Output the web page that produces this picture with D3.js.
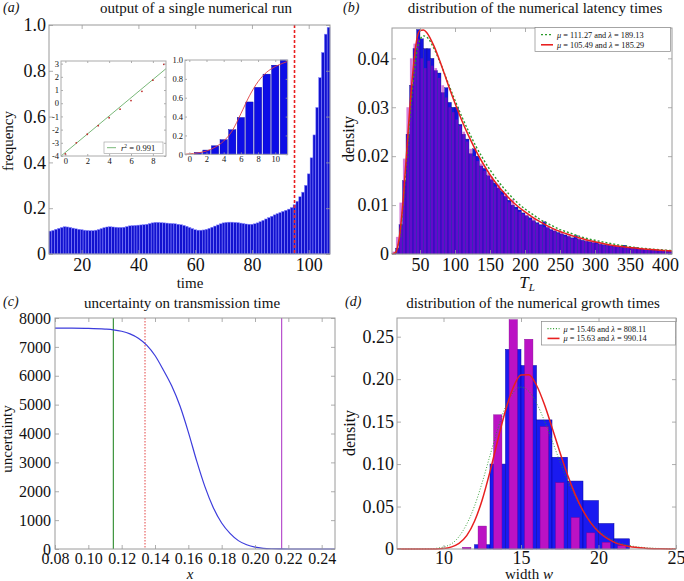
<!DOCTYPE html>
<html><head><meta charset="utf-8">
<script src="https://cdn.jsdelivr.net/npm/d3@7"></script>
<style>body{margin:0;background:#fff}svg{display:block}text{font-family:'Liberation Serif','Times New Roman',serif}</style>
</head><body><svg id="c" width="684" height="581" font-family="Liberation Serif, serif"></svg>
<script>
// ---------- Panel (a): single numerical run ----------
const runTimes = d3.range(9, 108);
const runFreq = [0.100,0.103,0.108,0.112,0.116,0.119,0.118,0.116,0.113,0.110,0.108,0.106,0.104,0.103,0.102,0.102,0.104,0.107,0.111,0.115,0.118,0.119,0.118,0.117,0.116,0.116,0.117,0.120,0.123,0.124,0.125,0.126,0.127,0.128,0.130,0.133,0.136,0.138,0.138,0.137,0.136,0.135,0.134,0.133,0.132,0.130,0.128,0.125,0.121,0.116,0.111,0.106,0.104,0.104,0.105,0.108,0.112,0.117,0.122,0.127,0.132,0.136,0.138,0.139,0.139,0.138,0.137,0.135,0.133,0.131,0.130,0.130,0.132,0.136,0.141,0.147,0.153,0.159,0.165,0.171,0.176,0.181,0.186,0.191,0.196,0.203,
0.215,0.230,0.250,0.270,0.300,0.350,0.420,0.520,0.640,0.770,0.880,0.960,0.990];
const runCutoff = 95;
const runXTicks = [20,40,60,80,100];
const runYTicks = [0,0.2,0.4,0.6,0.8,1.0];
// inset 1 (log-linear fit)
const fitX = [0,1,2,3,4,5,6,7,8,9];
const fitY = [-3.85,-3.0,-2.35,-1.7,-1.1,-0.45,0.2,0.9,1.75,2.95];
const fitLineX = [-0.4, 9.2];
const fitLineY = [-4.0, 2.62];
const fitLabel = "0.991";
// inset 2 (cumulative)
const cumX = [1,2,3,4,5,6,7,8,9,10,11];
const cumY = [0.02,0.045,0.09,0.155,0.26,0.39,0.555,0.71,0.85,0.945,1.0];
const cumFitX = [-0.5,0,1,2,3,4,5,6,7,8,9,10,11,11.45];
const cumFitY = [0,0.005,0.015,0.035,0.075,0.14,0.25,0.43,0.62,0.77,0.87,0.93,0.97,0.985];

// ---------- Panel (b): latency times ----------
const latBinStart = d3.range(10, 410, 5);
const latBlue = [0.0002,0.0012,0.0060,0.0150,0.0245,0.0345,0.0420,0.0459,0.0440,0.0420,0.0420,0.0400,0.0375,0.0370,0.0330,0.0340,0.0310,0.0300,0.0300,0.0265,0.0245,0.0235,0.0205,0.0215,0.0200,0.0180,0.0175,0.0160,
0.0152,0.0145,0.0135,0.0128,0.0118,0.0110,0.0100,0.0096,0.0090,0.0084,0.0078,0.0074,0.0068,0.0064,0.0060,0.0066,0.0054,0.0050,0.0047,0.0044,0.0041,0.0039,0.0036,0.0033,0.0038,0.0030,0.0028,0.0026,0.0025,0.0023,0.0024,0.0020,0.0019,0.0018,0.0017,0.0016,0.0015,0.0014,0.0018,0.0013,0.0012,0.0013,0.0011,0.0010,0.0009,0.0009,0.0008,0.0008,0.0007,0.0007,0.0006,0.0006];
const latMagenta = [0.0005,0.0035,0.0105,0.0195,0.0300,0.0400,0.0430,0.0440,0.0400,0.0380,0.0395,0.0385,0.0380,0.0360,0.0345,0.0320,0.0300,0.0290,0.0275,0.0262,0.0250,0.0230,0.0215,0.0200,0.0190,0.0185,0.0170,0.0165,
0.0158,0.0138,0.0142,0.0122,0.0124,0.0106,0.0112,0.0092,0.0086,0.0082,0.0080,0.0070,0.0072,0.0062,0.0058,0.0055,0.0056,0.0048,0.0050,0.0042,0.0044,0.0036,0.0038,0.0032,0.0031,0.0032,0.0027,0.0029,0.0024,0.0025,0.0021,0.0022,0.0018,0.0020,0.0016,0.0017,0.0018,0.0013,0.0014,0.0014,0.0013,0.0011,0.0012,0.0010,0.0010,0.0009,0.0008,0.0009,0.0007,0.0006,0.0007,0.0005];
const latRedX = [10,15,20,25,30,35,40,45,50,55,60,70,80,90,100,110,120,130,140,150,160,170,180,190,200,210,220,230,240,250,260,270,280,290,300,320,340,360,380,400,410];
const latRedY = [0,0.0003,0.003,0.0095,0.019,0.029,0.0375,0.0435,0.0457,0.0458,0.0452,0.0425,0.0388,0.0347,0.0308,0.0272,0.024,0.0211,0.0185,0.0162,0.0142,0.0125,0.011,0.0097,0.0086,0.0076,0.0067,0.0059,0.0052,0.0046,0.0041,0.0036,0.0032,0.0028,0.0025,0.0019,0.0015,0.0012,0.0009,0.0007,0.0006];
const latGreenX = [10,15,20,25,30,35,40,45,50,55,60,70,80,90,100,110,120,130,140,150,160,170,180,190,200,210,220,230,240,250,260,270,280,290,300,320,340,360,380,400,410];
const latGreenY = [0,0.0002,0.0025,0.0085,0.0175,0.027,0.035,0.041,0.0438,0.0446,0.0443,0.042,0.0387,0.035,0.0314,0.028,0.0249,0.022,0.0195,0.0172,0.0152,0.0134,0.0118,0.0104,0.0092,0.0082,0.0072,0.0064,0.0057,0.005,0.0045,0.004,0.0035,0.0031,0.0028,0.0022,0.0017,0.0013,0.001,0.0008,0.0007];
const latXTicks = [50,100,150,200,250,300,350,400];
const latYTicks = [0,0.01,0.02,0.03,0.04];
const latLegend = [["111.27","189.13"],["105.49","185.29"]];

// ---------- Panel (c): uncertainty ----------
const uncX = [0.08,0.09,0.10,0.11,0.115,0.12,0.125,0.13,0.135,0.14,0.145,0.15,0.155,0.16,0.165,0.17,0.175,0.18,0.185,0.19,0.195,0.20,0.205,0.21,0.215,0.22,0.248];
const uncY = [7650,7648,7640,7615,7590,7540,7450,7300,7060,6700,6200,5650,4950,4050,3050,2150,1430,900,540,290,145,62,24,8,2,0,0];
const uncLines = [0.115, 0.134, 0.216];
const uncXTicks = [0.08,0.10,0.12,0.14,0.16,0.18,0.20,0.22,0.24];
const uncYTicks = [0,1000,2000,3000,4000,5000,6000,7000,8000];

// ---------- Panel (d): growth times ----------
const grBlueStart = [12,13,14,15,16,17,18,19,20,21];
const grBlue = [0.005,0.10,0.235,0.216,0.152,0.108,0.080,0.057,0.030,0.012];
const grMagCenter = [11.5,12.5,13.5,14.5,15.5,16.5,17.5,18.5,19.5,20.5,21.5];
const grMag = [0.002,0.027,0.158,0.27,0.247,0.144,0.078,0.037,0.019,0.008,0.004];
const grCurveX = [7,8,9,10,11,12,12.5,13,13.5,14,14.5,15,15.5,16,16.5,17,17.5,18,18.5,19,19.5,20,21,22,23,24,25];
const grRed = [0,0,0.00002,0.00064,0.0066,0.0326,0.058,0.0911,0.1281,0.1631,0.1902,0.2048,0.2053,0.1928,0.1707,0.1432,0.1144,0.0873,0.064,0.0451,0.0307,0.0203,0.0081,0.0029,0.00095,0.0003,0.0001];
const grGreen = [0,0.000005,0.00017,0.00232,0.0146,0.0505,0.0785,0.1101,0.1413,0.1674,0.1845,0.1906,0.1859,0.1718,0.1515,0.1278,0.1036,0.081,0.0613,0.0449,0.032,0.0222,0.00997,0.0041,0.00157,0.00057,0.00019];
const grXTicks = [10,15,20,25];
const grYTicks = [0,0.05,0.10,0.15,0.20,0.25];
const grLegend = [["15.46","808.11"],["15.63","990.14"]];

// ================= drawing =================
const FONT = "Liberation Serif, serif";
const svg = d3.select("#c");

function axes(g, x, y, o) {
  const [x0,x1] = x.range(), [yb,yt] = y.range();
  const st = sel => {
    sel.attr("font-family", FONT).attr("font-size", o.fs);
    sel.select(".domain").remove();
    sel.selectAll(".tick line").attr("stroke", "#999").attr("stroke-width", 0.8);
    sel.selectAll("text").attr("font-size", o.fs).attr("fill", "#111").attr("font-family", FONT).style("font-family", FONT);
  };
  g.append("g").attr("transform", `translate(0,${yb})`)
    .call(d3.axisBottom(x).tickValues(o.xt).tickFormat(o.xf).tickSizeInner(-o.tl).tickSizeOuter(0).tickPadding(o.xpad)).call(st);
  g.append("g").attr("transform", `translate(0,${yt})`)
    .call(d3.axisTop(x).tickValues(o.xt).tickFormat("").tickSizeInner(-o.tl).tickSizeOuter(0)).call(st);
  g.append("g").attr("transform", `translate(${x0},0)`)
    .call(d3.axisLeft(y).tickValues(o.yt).tickFormat(o.yf).tickSizeInner(-o.tl).tickSizeOuter(0).tickPadding(o.ypad)).call(st);
  g.append("g").attr("transform", `translate(${x1},0)`)
    .call(d3.axisRight(y).tickValues(o.yt).tickFormat("").tickSizeInner(-o.tl).tickSizeOuter(0)).call(st);
  g.append("rect").attr("x", x0).attr("y", yt).attr("width", x1-x0).attr("height", yb-yt)
    .attr("fill", "none").attr("stroke", o.frame || "#9a9a9a").attr("stroke-width", 1);
}
function label(txt, x, y, size, opt={}) {
  const t = svg.append("text").attr("x", x).attr("y", y).attr("font-size", size)
    .attr("text-anchor", opt.anchor || "middle").attr("fill", "#111").text(txt);
  if (opt.italic) t.attr("font-style", "italic");
  if (opt.rotate) t.attr("transform", `rotate(-90,${x},${y})`);
  return t;
}
const zeroFmt = f => d => d === 0 ? "0" : d3.format(f)(d);

// ---- (a) ----
{
  const g = svg.append("g");
  const x = d3.scaleLinear().domain([8.5, 107.5]).range([49, 330]);
  const y = d3.scaleLinear().domain([0, 1]).range([254, 25]);
  g.selectAll("rect.b").data(runFreq).join("rect")
    .attr("x", (d,i) => x(runTimes[i]-0.5)).attr("width", (d,i) => x(runTimes[i]+0.5)-x(runTimes[i]-0.5))
    .attr("y", d => y(d)).attr("height", d => y(0)-y(d))
    .attr("fill", "#1212d0").attr("stroke", "#8a8aff").attr("stroke-width", 0.5);
  g.append("line").attr("x1", x(runCutoff)).attr("x2", x(runCutoff)).attr("y1", y(1)).attr("y2", y(0))
    .attr("stroke", "#e82020").attr("stroke-width", 1.6).attr("stroke-dasharray", "3,2");
  axes(g, x, y, {xt: runXTicks, xf: d3.format("d"), yt: runYTicks, yf: zeroFmt(".1f"), fs: 18, tl: 4, xpad: 4, ypad: 3});

  // inset 1
  const gi = svg.append("g");
  const xi = d3.scaleLinear().domain([-0.4, 9.2]).range([61, 166]);
  const yi = d3.scaleLinear().domain([-4, 3.2]).range([156, 61]);
  gi.append("rect").attr("x", 61).attr("y", 61).attr("width", 105).attr("height", 95).attr("fill", "#fff");
  gi.append("line").attr("x1", xi(fitLineX[0])).attr("y1", yi(fitLineY[0])).attr("x2", xi(fitLineX[1])).attr("y2", yi(fitLineY[1]))
    .attr("stroke", "#6ab06a").attr("stroke-width", 0.9);
  gi.selectAll("circle").data(fitY).join("circle").attr("cx", (d,i) => xi(fitX[i])).attr("cy", d => yi(d)).attr("r", 0.9).attr("fill", "#c03030");
  axes(gi, xi, yi, {xt: [0,2,4,6,8], xf: d3.format("d"), yt: [-4,-3,-2,-1,0,1,2,3], yf: d => d3.format("d")(d).replace("−","-"), fs: 8.5, tl: 2, xpad: 2, ypad: 2, frame: "#aaa"});
  gi.append("rect").attr("x", 104).attr("y", 142).attr("width", 59).attr("height", 11.5).attr("fill", "#fff").attr("stroke", "#999").attr("stroke-width", 0.6);
  gi.append("line").attr("x1", 107).attr("x2", 116).attr("y1", 147.7).attr("y2", 147.7).attr("stroke", "#6ab06a").attr("stroke-width", 0.9);
  const lt = gi.append("text").attr("x", 121).attr("y", 150.7).attr("font-size", 8.5).attr("fill", "#111");
  lt.append("tspan").attr("font-style", "italic").text("r");
  lt.append("tspan").attr("font-size", 5.5).attr("dy", -3).text("2");
  lt.append("tspan").attr("dy", 3).text(" = " + fitLabel);

  // inset 2
  const g2 = svg.append("g");
  const x2 = d3.scaleLinear().domain([-0.5, 11.45]).range([185, 287.7]);
  const y2 = d3.scaleLinear().domain([0, 1]).range([154.3, 60]);
  g2.append("rect").attr("x", 185).attr("y", 60).attr("width", 102.7).attr("height", 94.3).attr("fill", "#fff");
  g2.selectAll("rect.c").data(cumY).join("rect")
    .attr("x", (d,i) => x2(cumX[i]-0.425)).attr("width", (d,i) => x2(cumX[i]+0.425)-x2(cumX[i]-0.425))
    .attr("y", d => y2(d)).attr("height", d => y2(0)-y2(d)).attr("fill", "#0d0de6").attr("stroke", "#0000a0").attr("stroke-width", 0.4);
  g2.append("path").datum(cumFitY).attr("d", d3.line().x((d,i) => x2(cumFitX[i])).y(d => y2(d)).curve(d3.curveMonotoneX))
    .attr("fill", "none").attr("stroke", "#e04040").attr("stroke-width", 0.9);
  axes(g2, x2, y2, {xt: [0,2,4,6,8,10], xf: d3.format("d"), yt: [0,0.2,0.4,0.6,0.8,1.0], yf: zeroFmt(".1f"), fs: 8.5, tl: 2, xpad: 2, ypad: 2, frame: "#aaa"});

  label("output of a single numerical run", 196, 13, 15);
  label("time", 190, 288, 15);
  label("frequency", 13, 141, 15, {rotate: true});
  label("(a)", 3, 12, 14, {anchor: "start", italic: true});
}

// ---- (b) ----
function legend(g, x0, y0, w, h, rows, dashGreen) {
  g.append("rect").attr("x", x0).attr("y", y0).attr("width", w).attr("height", h).attr("fill", "#fff").attr("stroke", "#888").attr("stroke-width", 0.7);
  rows.forEach((r, i) => {
    const yy = y0 + h*(i === 0 ? 0.3 : 0.72);
    g.append("line").attr("x1", x0+6).attr("x2", x0+18).attr("y1", yy).attr("y2", yy)
      .attr("stroke", i === 0 ? "#2a9a2a" : "#e82020").attr("stroke-width", i === 0 ? 1.3 : 1.6)
      .attr("stroke-dasharray", i === 0 ? dashGreen : null);
    const t = g.append("text").attr("x", x0+22).attr("y", yy+3).attr("font-size", 8.3).attr("fill", "#111");
    t.append("tspan").attr("font-style", "italic").text("μ");
    t.append("tspan").text(" = " + r[0] + " and ");
    t.append("tspan").attr("font-style", "italic").text("λ");
    t.append("tspan").text(" = " + r[1]);
  });
}
{
  const g = svg.append("g");
  const x = d3.scaleLinear().domain([10, 410]).range([392, 672]);
  const y = d3.scaleLinear().domain([0, 0.0462]).range([254, 28]);
  g.selectAll("rect.bb").data(latBlue).join("rect")
    .attr("x", (d,i) => x(latBinStart[i])).attr("width", (d,i) => x(latBinStart[i]+5)-x(latBinStart[i]))
    .attr("y", d => y(d)).attr("height", d => y(0)-y(d)).attr("fill", "#1414e0").attr("stroke", "#10106a").attr("stroke-width", 0.3);
  g.selectAll("rect.bm").data(latMagenta).join("rect")
    .attr("x", (d,i) => x(latBinStart[i]+0.6)).attr("width", (d,i) => x(latBinStart[i]+4.4)-x(latBinStart[i]+0.6))
    .attr("y", d => y(d)).attr("height", d => y(0)-y(d)).attr("fill", "#b000b8").attr("fill-opacity", 0.5);
  const line = (xs) => d3.line().x((d,i) => x(xs[i])).y(d => y(d)).curve(d3.curveMonotoneX);
  g.append("path").datum(latGreenY).attr("d", line(latGreenX)).attr("fill", "none").attr("stroke", "#2a9a2a").attr("stroke-width", 1.4).attr("stroke-dasharray", "2,2");
  g.append("path").datum(latRedY).attr("d", line(latRedX)).attr("fill", "none").attr("stroke", "#e82020").attr("stroke-width", 1.5);
  axes(g, x, y, {xt: latXTicks, xf: d3.format("d"), yt: latYTicks, yf: zeroFmt(".2f"), fs: 18, tl: 4, xpad: 4, ypad: 3});
  legend(g, 535, 27.5, 135.5, 24, latLegend, "2,2");
  label("distribution of the numerical latency times", 535, 13, 15);
  const tl = svg.append("text").attr("x", 527).attr("y", 288).attr("font-size", 17).attr("text-anchor", "middle").attr("fill", "#111");
  tl.append("tspan").attr("font-style", "italic").text("T");
  tl.append("tspan").attr("font-style", "italic").attr("font-size", 11).attr("dy", 3).text("L");
  label("density", 354, 139, 16, {rotate: true});
  label("(b)", 343, 12, 14, {anchor: "start", italic: true});
}

// ---- (c) ----
{
  const g = svg.append("g");
  const x = d3.scaleLinear().domain([0.08, 0.248]).range([55, 335]);
  const y = d3.scaleLinear().domain([0, 8000]).range([549, 318]);
  const cols = ["#2a8a2a", "#e03030", "#b040c8"];
  uncLines.forEach((v, i) => {
    g.append("line").attr("x1", x(v)).attr("x2", x(v)).attr("y1", y(8000)).attr("y2", y(0))
      .attr("stroke", cols[i]).attr("stroke-width", i === 1 ? 0.9 : 1.1).attr("stroke-dasharray", i === 1 ? "1.5,1.5" : null);
  });
  g.append("path").datum(uncY).attr("d", d3.line().x((d,i) => x(uncX[i])).y(d => y(d)).curve(d3.curveMonotoneX))
    .attr("fill", "none").attr("stroke", "#3c3cdc").attr("stroke-width", 1.2);
  axes(g, x, y, {xt: uncXTicks, xf: d3.format(".2f"), yt: uncYTicks, yf: d3.format("d"), fs: 16, tl: 4, xpad: 4, ypad: 4});
  label("uncertainty on transmission time", 182, 308, 15);
  label("x", 190, 579, 15, {italic: true});
  label("uncertainty", 12, 439, 15, {rotate: true});
  label("(c)", 3, 306, 14, {anchor: "start", italic: true});
}

// ---- (d) ----
{
  const g = svg.append("g");
  const x = d3.scaleLinear().domain([7, 25]).range([397, 676]);
  const y = d3.scaleLinear().domain([0, 0.272]).range([549, 318]);
  g.selectAll("rect.gb").data(grBlue).join("rect")
    .attr("x", (d,i) => x(grBlueStart[i])).attr("width", (d,i) => x(grBlueStart[i]+1)-x(grBlueStart[i]))
    .attr("y", d => y(d)).attr("height", d => y(0)-y(d)).attr("fill", "#1a1af0").attr("stroke", "#0000a0").attr("stroke-width", 0.5);
  g.selectAll("rect.gm").data(grMag).join("rect")
    .attr("x", (d,i) => x(grMagCenter[i]-0.27)).attr("width", (d,i) => x(grMagCenter[i]+0.27)-x(grMagCenter[i]-0.27))
    .attr("y", d => y(d)).attr("height", d => y(0)-y(d)).attr("fill", "#bb12c4").attr("stroke", "#800090").attr("stroke-width", 0.4);
  const line = d3.line().x((d,i) => x(grCurveX[i])).y(d => y(d)).curve(d3.curveMonotoneX);
  g.append("path").datum(grGreen).attr("d", line).attr("fill", "none").attr("stroke", "#2a9a2a").attr("stroke-width", 0.9).attr("stroke-dasharray", "1,1.8");
  g.append("path").datum(grRed).attr("d", line).attr("fill", "none").attr("stroke", "#e82020").attr("stroke-width", 1.5);
  axes(g, x, y, {xt: grXTicks, xf: d3.format("d"), yt: grYTicks, yf: zeroFmt(".2f"), fs: 18, tl: 4, xpad: 2, ypad: 3});
  legend(g, 541.5, 321.5, 134, 23.5, grLegend, "1,1.8");
  label("distribution of the numerical growth times", 533, 308, 15);
  const wl = svg.append("text").attr("x", 529).attr("y", 579).attr("font-size", 15).attr("text-anchor", "middle").attr("fill", "#111");
  wl.append("tspan").text("width ");
  wl.append("tspan").attr("font-style", "italic").text("w");
  label("density", 355, 433, 16, {rotate: true});
  label("(d)", 345, 306, 14, {anchor: "start", italic: true});
}
</script></body></html>
